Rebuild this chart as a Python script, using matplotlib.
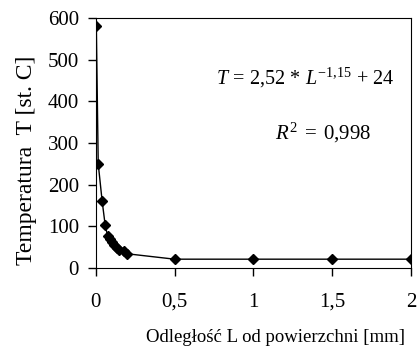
import matplotlib
matplotlib.use("Agg")
import matplotlib.pyplot as plt

plt.rcParams['font.family'] = ['Liberation Serif', 'DejaVu Serif']
plt.rcParams['mathtext.fontset'] = 'custom'
plt.rcParams['mathtext.rm'] = 'Liberation Serif'
plt.rcParams['mathtext.it'] = 'Liberation Serif:italic'

L_mm = [0.005, 0.017, 0.042, 0.061, 0.076, 0.091, 0.106, 0.118, 0.134, 0.15, 0.18, 0.2, 0.5, 1.0, 1.5, 2.0]
T_C = [580, 250, 160, 103, 77, 70, 62, 54, 48, 42, 40, 34, 21, 21, 21, 21]
x_ticks = [0, 0.5, 1, 1.5, 2]
x_tick_labels = ["0", "0,5", "1", "1,5", "2"]
y_ticks = [0, 100, 200, 300, 400, 500, 600]

fig = plt.figure(figsize=(4.19, 3.53), dpi=100)
ax = fig.add_axes([0.228, 0.241, 0.754, 0.708])
ax.plot(L_mm, T_C, color='black', linewidth=1.0, marker='D', markersize=5.5)
ax.set_xlim(0, 2)
ax.set_ylim(0, 600)
ax.set_xticks(x_ticks)
ax.set_xticklabels(x_tick_labels)
ax.set_yticks(y_ticks)
ax.tick_params(direction='out', length=6, width=1, labelsize=15)
ax.tick_params(axis='x', pad=12)
ax.tick_params(axis='y', pad=6)
ax.set_xlabel("Odległość L od powierzchni [mm]", fontsize=13.5)
ax.xaxis.set_label_coords(0.57, -0.245)
ax.set_ylabel("Temperatura  T [st. C]", fontsize=17, labelpad=8, y=0.43)
ax.text(0.663, 0.76, r"$T\,=\,2{,}52\,*\,L^{-1{,}15}\,+\,24$", transform=ax.transAxes,
        fontsize=14.5, ha='center', va='center')
ax.text(0.72, 0.54, r"$R^{2}\;=\;0{,}998$", transform=ax.transAxes,
        fontsize=15, ha='center', va='center')
fig.savefig("out.png", dpi=100)
